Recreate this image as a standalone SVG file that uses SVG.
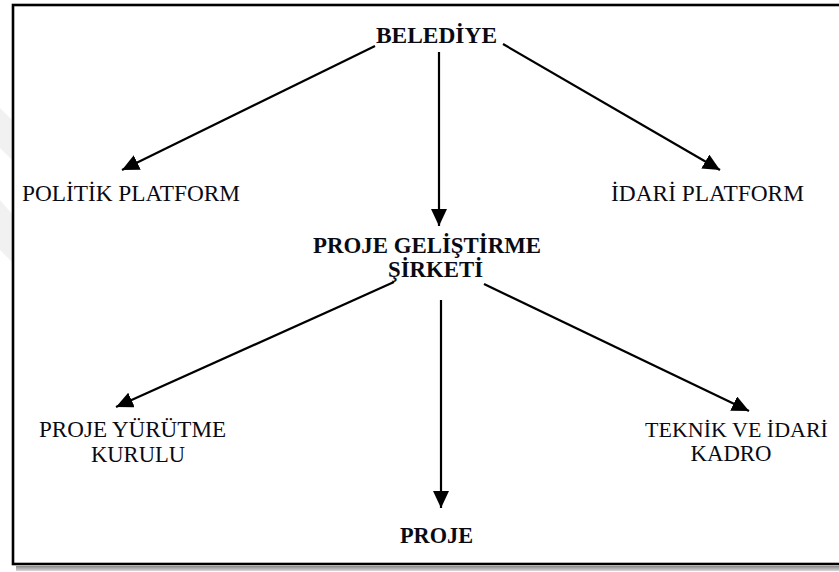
<svg xmlns="http://www.w3.org/2000/svg" width="839" height="572" viewBox="0 0 839 572">
  <defs>
    <style>
      .t { font-family: "Liberation Serif", "Times New Roman", serif; fill: #0a0a14; text-anchor: middle; }
      .r { font-size: 24px; }
      .b { font-size: 24px; font-weight: bold; }
      .s { font-size: 22px; }
      .edge { stroke: #000; stroke-width: 2.2; fill: none; marker-end: url(#head); }
    </style>
    <marker id="head" markerUnits="userSpaceOnUse" markerWidth="18" markerHeight="17" refX="17" refY="8" orient="auto">
      <path d="M0,0 L17,8 L0,16 z" fill="#000"/>
    </marker>
    <linearGradient id="shade" x1="0" y1="0" x2="0" y2="1">
      <stop offset="0" stop-color="#8a8a8a"/>
      <stop offset="1" stop-color="#d8d8d8"/>
    </linearGradient>
  </defs>

  <rect width="839" height="572" fill="#fff"/>

  <!-- faint background marks on the left margin -->
  <g fill="#f1f1f1">
    <polygon points="0,108 12,120 12,160 0,148"/>
    <polygon points="0,200 12,214 12,262 0,250"/>
  </g>

  <!-- frame with drop shadow -->
  <rect x="16" y="566" width="830" height="5" fill="url(#shade)"/>
  <rect x="13" y="5" width="840" height="559" fill="none" stroke="#000" stroke-width="2.6"/>

  <g id="connectors">
    <line class="edge" x1="375" y1="46" x2="122" y2="170"/>
    <line class="edge" x1="439" y1="52" x2="439" y2="226"/>
    <line class="edge" x1="503" y1="44" x2="720" y2="170"/>
    <line class="edge" x1="394" y1="282" x2="116" y2="407"/>
    <line class="edge" x1="441" y1="300" x2="441" y2="508"/>
    <line class="edge" x1="484" y1="284" x2="749" y2="411"/>
  </g>

  <g id="belediye">
    <text class="t b" x="436.5" y="43" textLength="121" lengthAdjust="spacingAndGlyphs">BELEDİYE</text>
  </g>
  <g id="politik-platform">
    <text class="t r" x="131" y="201" textLength="218" lengthAdjust="spacingAndGlyphs">POLİTİK PLATFORM</text>
  </g>
  <g id="idari-platform">
    <text class="t r" x="707.5" y="201" textLength="193" lengthAdjust="spacingAndGlyphs">İDARİ PLATFORM</text>
  </g>
  <g id="proje-gelistirme-sirketi">
    <text class="t b" x="427" y="253" textLength="228" lengthAdjust="spacingAndGlyphs">PROJE GELİŞTİRME</text>
    <text class="t b" x="435.5" y="277" textLength="95" lengthAdjust="spacingAndGlyphs">ŞİRKETİ</text>
  </g>
  <g id="proje-yurutme-kurulu">
    <text class="t r" x="132.5" y="437" textLength="187" lengthAdjust="spacingAndGlyphs">PROJE YÜRÜTME</text>
    <text class="t r" x="138" y="462" textLength="94" lengthAdjust="spacingAndGlyphs">KURULU</text>
  </g>
  <g id="teknik-idari-kadro">
    <text class="t s" x="736.5" y="437">TEKNİK VE İDARİ</text>
    <text class="t r" x="731" y="461" textLength="81" lengthAdjust="spacingAndGlyphs">KADRO</text>
  </g>
  <g id="proje">
    <text class="t b" x="436.5" y="543" textLength="73" lengthAdjust="spacingAndGlyphs">PROJE</text>
  </g>
</svg>
